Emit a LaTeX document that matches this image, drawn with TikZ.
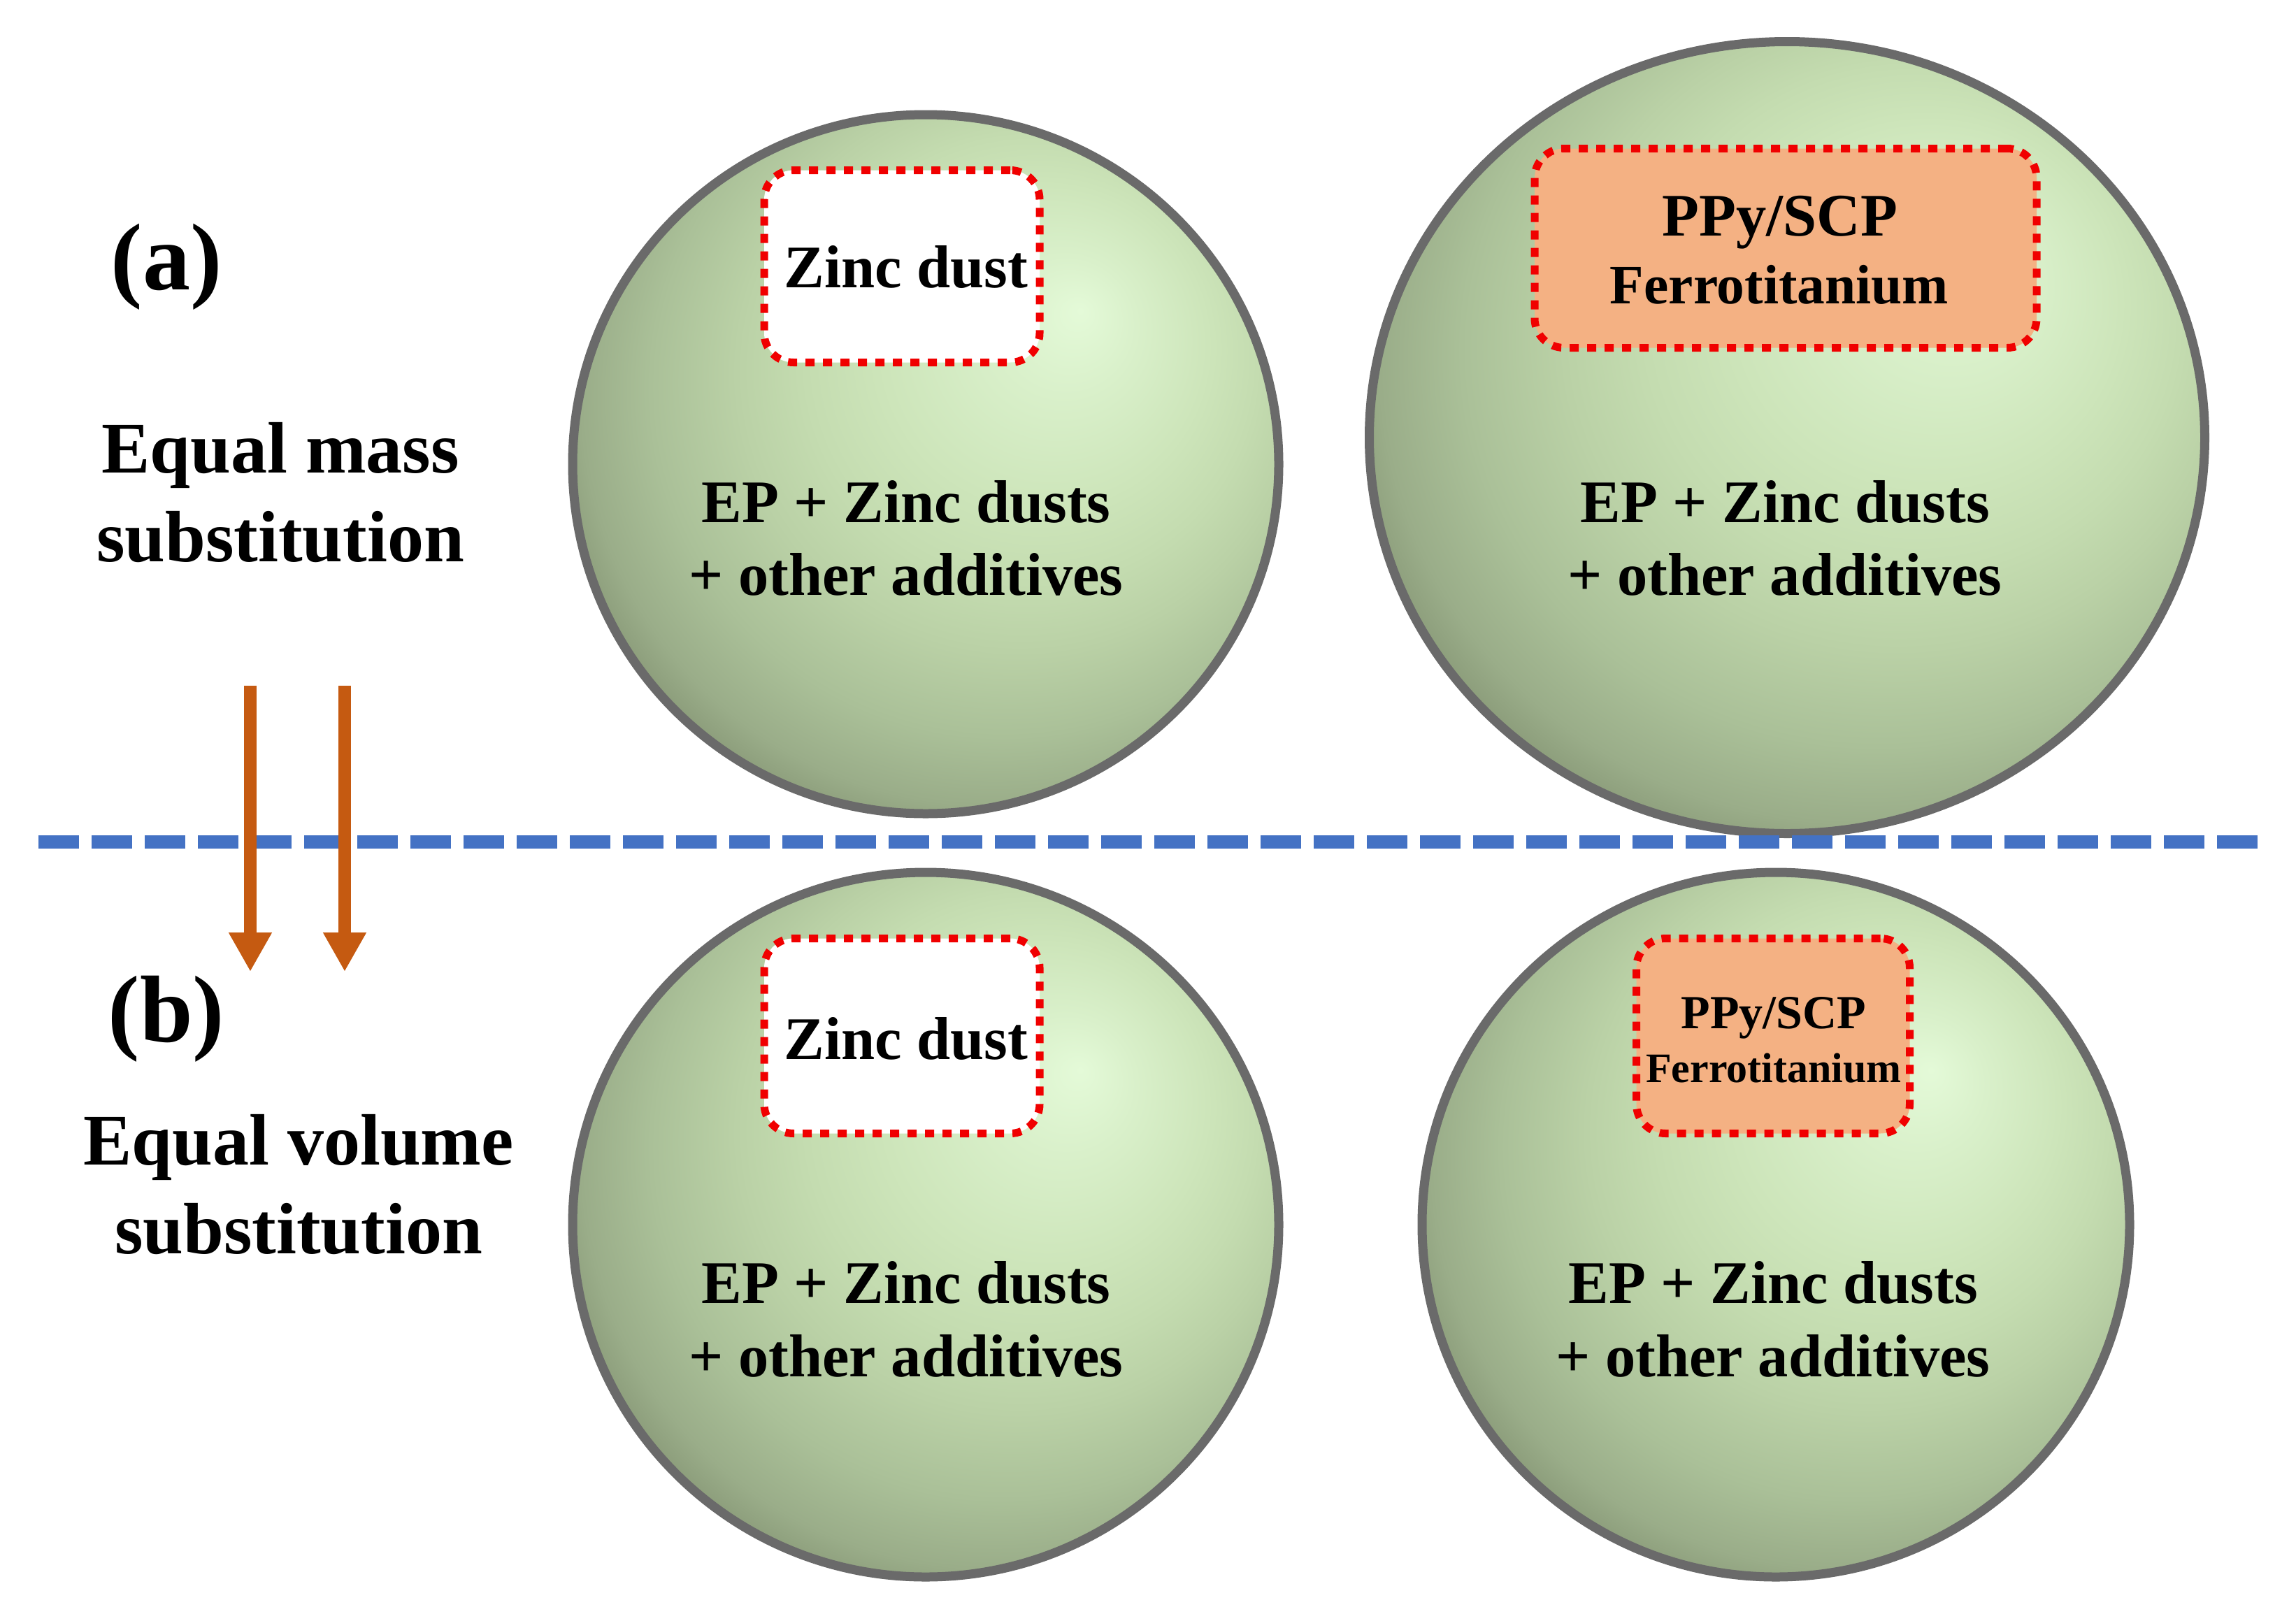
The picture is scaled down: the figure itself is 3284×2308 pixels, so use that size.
\documentclass[tikz,border=0pt]{standalone}
\usepackage{fontspec}
\setmainfont{Liberation Serif}
\usetikzlibrary{shapes.geometric,arrows.meta}
\definecolor{sphA}{HTML}{E4FAD8}
\definecolor{sphB}{HTML}{D9F0CA}
\definecolor{sphC}{HTML}{CDE5BA}
\definecolor{sphD}{HTML}{C4DCB0}
\definecolor{sphE}{HTML}{BAD1A6}
\definecolor{sphF}{HTML}{AAC098}
\definecolor{sphG}{HTML}{9AAD89}
\definecolor{sphH}{HTML}{849473}
\definecolor{sphline}{HTML}{6A6A6A}
\definecolor{boxred}{HTML}{F00000}
\definecolor{salmon}{HTML}{F4B183}
\definecolor{divblue}{HTML}{4472C4}
\definecolor{arrowor}{HTML}{C55A11}
\pgfdeclareradialshading{sphshade}{\pgfpoint{11bp}{11bp}}{color(0bp)=(sphA); color(5bp)=(sphB); color(11.5bp)=(sphC); color(16bp)=(sphD); color(20bp)=(sphE); color(25bp)=(sphF); color(29bp)=(sphG); color(32bp)=(sphH); color(50bp)=(sphH)}
\begin{document}
\begin{tikzpicture}[x=1pt,y=-1pt,
  sphere/.style={ellipse, draw=sphline, line width=13pt, shading=sphshade, inner sep=0pt, outer sep=0pt},
  dotbox/.style={rectangle, draw=boxred, line width=11pt, dash pattern=on 13pt off 12pt, rounded corners=42pt, inner sep=0pt},
  txt/.style={font=\fontsize{86.5}{104}\selectfont\bfseries, inner sep=0pt, anchor=base},
  side/.style={font=\fontsize{104}{127}\selectfont\bfseries, inner sep=0pt, anchor=base},
  tag/.style={font=\fontsize{136}{150}\selectfont\bfseries, inner sep=0pt, anchor=base},
  divline/.style={draw=divblue, line width=19pt, dash pattern=on 58pt off 18pt},
  orarrow/.style={draw=arrowor, fill=arrowor, line width=18pt, -{Triangle[width=58pt,length=56pt]}}
]
\useasboundingbox (0,0) rectangle (3284,2308);
\fill[white] (0,0) rectangle (3284,2308);

% spheres
\node[sphere, minimum width=1010pt, minimum height=1000pt] (c1) at (1324,664) {};
\node[sphere, minimum width=1195pt, minimum height=1133pt] (c2) at (2556,626) {};
\node[sphere, minimum width=1010pt, minimum height=1008pt] (c3) at (1324,1752) {};
\node[sphere, minimum width=1012pt, minimum height=1008pt] (c4) at (2540,1752) {};

% dotted boxes
\node[dotbox, fill=white, minimum width=394pt, minimum height=275pt] (b1) at (1290,381) {};
\node[dotbox, fill=salmon, minimum width=718pt, minimum height=285pt] (b2) at (2554,355) {};
\node[dotbox, fill=white, minimum width=394pt, minimum height=279pt] (b3) at (1290,1482) {};
\node[dotbox, fill=salmon, minimum width=391pt, minimum height=279pt] (b4) at (2536,1482) {};

% labels
\node[tag] (ta) at (238,414) {(a)};
\node[tag] (tb) at (238,1490) {(b)};
\node[side] (m1) at (401,676) {Equal mass};
\node[side] (m2) at (401,803) {substitution};
\node[side] (v1) at (427,1666) {Equal volume};
\node[side] (v2) at (427,1793) {substitution};

% sphere texts
\node[txt] (z1) at (1296,411) {Zinc dust};
\node[txt] (e1) at (1296,747) {EP + Zinc dusts};
\node[txt] (o1) at (1296,851) {+ other additives};

\node[txt] (p2) at (2546,337) {PPy/SCP};
\node[txt, font=\fontsize{79.5}{95}\selectfont\bfseries] (f2) at (2545,434) {Ferrotitanium};
\node[txt] (e2) at (2553,747) {EP + Zinc dusts};
\node[txt] (o2) at (2553,851) {+ other additives};

\node[txt] (z3) at (1296,1515) {Zinc dust};
\node[txt] (e3) at (1296,1864) {EP + Zinc dusts};
\node[txt] (o3) at (1296,1969) {+ other additives};

\node[txt, font=\fontsize{68}{80}\selectfont\bfseries] (p4) at (2537,1471) {PPy/SCP};
\node[txt, font=\fontsize{60}{72}\selectfont\bfseries] (f4) at (2537,1548) {Ferrotitanium};
\node[txt] (e4) at (2536,1864) {EP + Zinc dusts};
\node[txt] (o4) at (2536,1969) {+ other additives};

% divider
\coordinate (dl) at (55,1204);
\coordinate (dr) at (3237,1204);
\draw[divline] (dl) -- (dr);

% arrows
\coordinate (a1s) at (358,981);
\coordinate (a1e) at (358,1390);
\coordinate (a2s) at (493,981);
\coordinate (a2e) at (493,1390);
\draw[orarrow] (a1s) -- (a1e);
\draw[orarrow] (a2s) -- (a2e);
\end{tikzpicture}
\end{document}
